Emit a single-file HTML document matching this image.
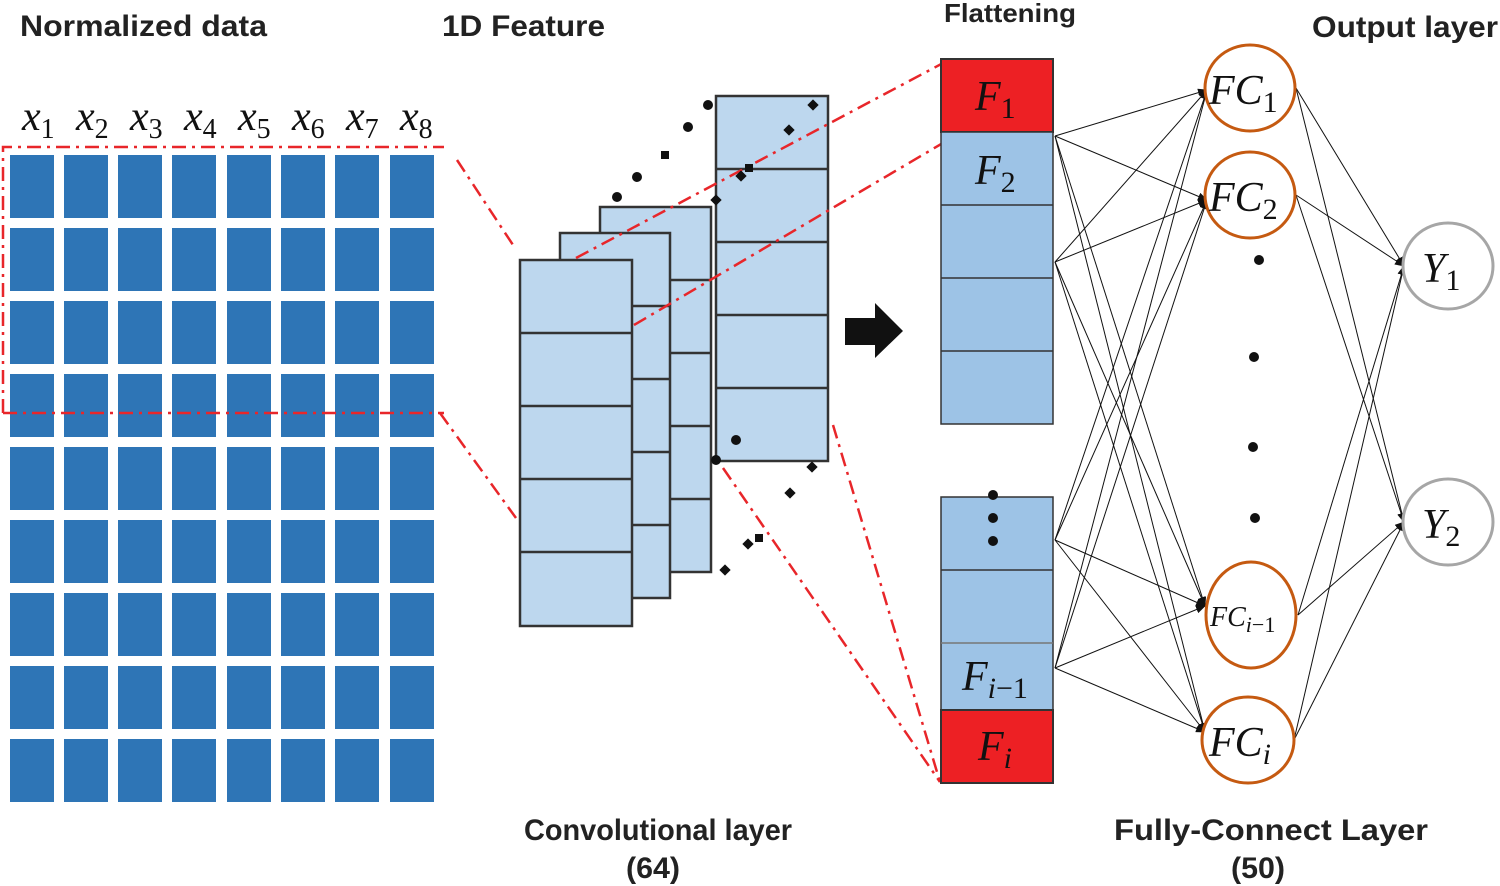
<!DOCTYPE html>
<html><head><meta charset="utf-8"><style>
html,body{margin:0;padding:0;background:#fff;}
svg{display:block;}
.t{font-family:"Liberation Sans",sans-serif;font-weight:bold;font-size:30px;fill:#222;}
.m{font-family:"Liberation Serif",serif;font-style:italic;fill:#111;}
</style></head><body>
<svg width="1500" height="886" viewBox="0 0 1500 886" xmlns="http://www.w3.org/2000/svg">
<text class="t" x="20" y="36" textLength="247" lengthAdjust="spacingAndGlyphs">Normalized data</text>
<text class="t" x="442" y="36" textLength="163" lengthAdjust="spacingAndGlyphs">1D Feature</text>
<text class="t" x="944" y="22" style="font-size:26px" textLength="132" lengthAdjust="spacingAndGlyphs">Flattening</text>
<text class="t" x="1312" y="37" textLength="186" lengthAdjust="spacingAndGlyphs">Output layer</text>
<text class="t" x="524" y="840" textLength="268" lengthAdjust="spacingAndGlyphs">Convolutional layer</text>
<text class="t" x="626" y="878" textLength="54" lengthAdjust="spacingAndGlyphs">(64)</text>
<text class="t" x="1114" y="840" textLength="314" lengthAdjust="spacingAndGlyphs">Fully-Connect Layer</text>
<text class="t" x="1231" y="878" textLength="54" lengthAdjust="spacingAndGlyphs">(50)</text>
<g class="m" font-size="42">
<text x="22" y="130">x<tspan font-size="28" font-style="normal" dy="8">1</tspan></text>
<text x="76" y="130">x<tspan font-size="28" font-style="normal" dy="8">2</tspan></text>
<text x="130" y="130">x<tspan font-size="28" font-style="normal" dy="8">3</tspan></text>
<text x="184" y="130">x<tspan font-size="28" font-style="normal" dy="8">4</tspan></text>
<text x="238" y="130">x<tspan font-size="28" font-style="normal" dy="8">5</tspan></text>
<text x="292" y="130">x<tspan font-size="28" font-style="normal" dy="8">6</tspan></text>
<text x="346" y="130">x<tspan font-size="28" font-style="normal" dy="8">7</tspan></text>
<text x="400" y="130">x<tspan font-size="28" font-style="normal" dy="8">8</tspan></text>
</g>
<g fill="#2e75b6">
<rect x="10" y="155" width="44" height="63"/><rect x="64" y="155" width="44" height="63"/><rect x="118" y="155" width="44" height="63"/><rect x="172" y="155" width="44" height="63"/><rect x="227" y="155" width="44" height="63"/><rect x="281" y="155" width="44" height="63"/><rect x="335" y="155" width="44" height="63"/><rect x="390" y="155" width="44" height="63"/>
<rect x="10" y="228" width="44" height="63"/><rect x="64" y="228" width="44" height="63"/><rect x="118" y="228" width="44" height="63"/><rect x="172" y="228" width="44" height="63"/><rect x="227" y="228" width="44" height="63"/><rect x="281" y="228" width="44" height="63"/><rect x="335" y="228" width="44" height="63"/><rect x="390" y="228" width="44" height="63"/>
<rect x="10" y="301" width="44" height="63"/><rect x="64" y="301" width="44" height="63"/><rect x="118" y="301" width="44" height="63"/><rect x="172" y="301" width="44" height="63"/><rect x="227" y="301" width="44" height="63"/><rect x="281" y="301" width="44" height="63"/><rect x="335" y="301" width="44" height="63"/><rect x="390" y="301" width="44" height="63"/>
<rect x="10" y="374" width="44" height="63"/><rect x="64" y="374" width="44" height="63"/><rect x="118" y="374" width="44" height="63"/><rect x="172" y="374" width="44" height="63"/><rect x="227" y="374" width="44" height="63"/><rect x="281" y="374" width="44" height="63"/><rect x="335" y="374" width="44" height="63"/><rect x="390" y="374" width="44" height="63"/>
<rect x="10" y="447" width="44" height="63"/><rect x="64" y="447" width="44" height="63"/><rect x="118" y="447" width="44" height="63"/><rect x="172" y="447" width="44" height="63"/><rect x="227" y="447" width="44" height="63"/><rect x="281" y="447" width="44" height="63"/><rect x="335" y="447" width="44" height="63"/><rect x="390" y="447" width="44" height="63"/>
<rect x="10" y="520" width="44" height="63"/><rect x="64" y="520" width="44" height="63"/><rect x="118" y="520" width="44" height="63"/><rect x="172" y="520" width="44" height="63"/><rect x="227" y="520" width="44" height="63"/><rect x="281" y="520" width="44" height="63"/><rect x="335" y="520" width="44" height="63"/><rect x="390" y="520" width="44" height="63"/>
<rect x="10" y="593" width="44" height="63"/><rect x="64" y="593" width="44" height="63"/><rect x="118" y="593" width="44" height="63"/><rect x="172" y="593" width="44" height="63"/><rect x="227" y="593" width="44" height="63"/><rect x="281" y="593" width="44" height="63"/><rect x="335" y="593" width="44" height="63"/><rect x="390" y="593" width="44" height="63"/>
<rect x="10" y="666" width="44" height="63"/><rect x="64" y="666" width="44" height="63"/><rect x="118" y="666" width="44" height="63"/><rect x="172" y="666" width="44" height="63"/><rect x="227" y="666" width="44" height="63"/><rect x="281" y="666" width="44" height="63"/><rect x="335" y="666" width="44" height="63"/><rect x="390" y="666" width="44" height="63"/>
<rect x="10" y="739" width="44" height="63"/><rect x="64" y="739" width="44" height="63"/><rect x="118" y="739" width="44" height="63"/><rect x="172" y="739" width="44" height="63"/><rect x="227" y="739" width="44" height="63"/><rect x="281" y="739" width="44" height="63"/><rect x="335" y="739" width="44" height="63"/><rect x="390" y="739" width="44" height="63"/>
</g>
<g stroke="#333" stroke-width="2.5" fill="#bdd7ee">
<rect x="716" y="96" width="112" height="365"/>
<line x1="716" y1="169" x2="828" y2="169"/><line x1="716" y1="242" x2="828" y2="242"/><line x1="716" y1="315" x2="828" y2="315"/><line x1="716" y1="388" x2="828" y2="388"/>
<rect x="600" y="207" width="111" height="365"/>
<line x1="671" y1="280" x2="711" y2="280"/><line x1="671" y1="353" x2="711" y2="353"/><line x1="671" y1="426" x2="711" y2="426"/><line x1="671" y1="499" x2="711" y2="499"/>
<rect x="560" y="233" width="110" height="365"/>
<line x1="632" y1="306" x2="670" y2="306"/><line x1="632" y1="379" x2="670" y2="379"/><line x1="632" y1="452" x2="670" y2="452"/><line x1="632" y1="525" x2="670" y2="525"/>
<rect x="520" y="260" width="112" height="366"/>
<line x1="520" y1="333" x2="632" y2="333"/><line x1="520" y1="406" x2="632" y2="406"/><line x1="520" y1="479" x2="632" y2="479"/><line x1="520" y1="552" x2="632" y2="552"/>
</g>
<g stroke="#e8262a" stroke-width="2.5" fill="none" stroke-dasharray="14 6 3 6">
<path d="M3 413 L3 147 L444 147"/>
<line x1="3" y1="413" x2="444" y2="413"/>
<line x1="457" y1="160" x2="515" y2="248"/>
<line x1="440" y1="413" x2="516" y2="518"/>
<line x1="576" y1="258" x2="945" y2="62"/>
<line x1="634" y1="325" x2="948" y2="140"/>
<line x1="723" y1="468" x2="940" y2="782"/>
<line x1="833" y1="425" x2="940" y2="782"/>
</g>
<g fill="#111">
<circle cx="617" cy="197" r="5"/><circle cx="637" cy="177" r="5"/><rect x="661" y="151" width="8" height="8"/><circle cx="688" cy="127" r="5"/><circle cx="708" cy="105" r="5"/>
<circle cx="736" cy="440" r="5"/><circle cx="716" cy="460" r="5"/>
<rect x="755" y="534" width="8" height="8"/><rect x="745" y="164" width="8" height="8"/>
<g transform="translate(813,105) rotate(45)"><rect x="-4" y="-4" width="8" height="8"/></g>
<g transform="translate(789,130) rotate(45)"><rect x="-4" y="-4" width="8" height="8"/></g>
<g transform="translate(741,176) rotate(45)"><rect x="-4" y="-4" width="8" height="8"/></g>
<g transform="translate(716,200) rotate(45)"><rect x="-4" y="-4" width="8" height="8"/></g>
<g transform="translate(812,467) rotate(45)"><rect x="-4" y="-4" width="8" height="8"/></g>
<g transform="translate(790,493) rotate(45)"><rect x="-4" y="-4" width="8" height="8"/></g>
<g transform="translate(748,544) rotate(45)"><rect x="-4" y="-4" width="8" height="8"/></g>
<g transform="translate(725,570) rotate(45)"><rect x="-4" y="-4" width="8" height="8"/></g>
</g>
<polygon points="845,318 875,318 875,303 903,331 875,358 875,345 845,345" fill="#111"/>
<g stroke="#333" stroke-width="1.5">
<rect x="941" y="59" width="112" height="73" fill="#ed2024" stroke-width="2"/>
<rect x="941" y="132" width="112" height="292" fill="#9dc3e6"/>
<line x1="941" y1="205" x2="1053" y2="205"/><line x1="941" y1="278" x2="1053" y2="278"/><line x1="941" y1="351" x2="1053" y2="351"/>
<rect x="941" y="497" width="112" height="213" fill="#9dc3e6"/>
<line x1="941" y1="570" x2="1053" y2="570"/><line x1="941" y1="643" x2="1053" y2="643" stroke="#777"/>
<rect x="941" y="710" width="112" height="73" fill="#ed2024" stroke-width="2"/>
</g>
<g fill="#111"><circle cx="993" cy="495" r="5"/><circle cx="993" cy="518" r="5"/><circle cx="993" cy="541" r="5"/></g>
<g class="m" font-size="42">
<text x="975" y="110">F<tspan font-size="30" font-style="normal" dy="8">1</tspan></text>
<text x="975" y="184">F<tspan font-size="30" font-style="normal" dy="8">2</tspan></text>
<text x="962" y="690">F<tspan font-size="30" dy="8">i</tspan><tspan font-size="30" font-style="normal">−1</tspan></text>
<text x="978" y="760">F<tspan font-size="30" dy="8">i</tspan></text>
</g>
<defs><marker id="a" markerWidth="10" markerHeight="8" refX="9" refY="4" orient="auto" markerUnits="userSpaceOnUse"><path d="M0 0 L10 4 L0 8 z" fill="#111"/></marker></defs>
<g stroke="#111" stroke-width="1" fill="none" marker-end="url(#a)">
<line x1="1055" y1="136" x2="1207" y2="90"/><line x1="1055" y1="136" x2="1207" y2="200"/><line x1="1055" y1="136" x2="1205" y2="606"/><line x1="1055" y1="136" x2="1205" y2="732"/>
<line x1="1055" y1="262" x2="1207" y2="90"/><line x1="1055" y1="262" x2="1207" y2="200"/><line x1="1055" y1="262" x2="1205" y2="606"/><line x1="1055" y1="262" x2="1205" y2="732"/>
<line x1="1055" y1="540" x2="1207" y2="90"/><line x1="1055" y1="540" x2="1207" y2="200"/><line x1="1055" y1="540" x2="1205" y2="606"/><line x1="1055" y1="540" x2="1205" y2="732"/>
<line x1="1055" y1="668" x2="1207" y2="90"/><line x1="1055" y1="668" x2="1207" y2="200"/><line x1="1055" y1="668" x2="1205" y2="606"/><line x1="1055" y1="668" x2="1205" y2="732"/>
<line x1="1296" y1="88" x2="1404" y2="266"/><line x1="1296" y1="88" x2="1404" y2="522"/>
<line x1="1296" y1="195" x2="1404" y2="266"/><line x1="1296" y1="195" x2="1404" y2="522"/>
<line x1="1298" y1="615" x2="1404" y2="266"/><line x1="1298" y1="615" x2="1404" y2="522"/>
<line x1="1294" y1="740" x2="1404" y2="266"/><line x1="1294" y1="740" x2="1404" y2="522"/>
</g>
<g fill="#fff" stroke="#c55a11" stroke-width="3">
<ellipse cx="1250" cy="88" rx="45" ry="43"/><ellipse cx="1250" cy="195" rx="45" ry="43"/>
<ellipse cx="1251" cy="615" rx="45" ry="53"/><ellipse cx="1248" cy="740" rx="46" ry="43"/>
</g>
<g fill="#fff" stroke="#a6a6a6" stroke-width="3">
<ellipse cx="1448" cy="266" rx="45" ry="43"/><ellipse cx="1448" cy="522" rx="45" ry="43"/>
</g>
<g fill="#111"><circle cx="1259" cy="260" r="5"/><circle cx="1254" cy="357" r="5"/><circle cx="1253" cy="447" r="5"/><circle cx="1255" cy="518" r="5"/></g>
<g class="m" font-size="42">
<text x="1209" y="104">FC<tspan font-size="30" font-style="normal" dy="8">1</tspan></text>
<text x="1209" y="211">FC<tspan font-size="30" font-style="normal" dy="8">2</tspan></text>
<text x="1210" y="626" font-size="28">FC<tspan font-size="22" dy="6">i</tspan><tspan font-size="22" font-style="normal">−1</tspan></text>
<text x="1209" y="756">FC<tspan font-size="30" dy="8">i</tspan></text>
<text x="1422" y="282">Y<tspan font-size="30" font-style="normal" dy="8">1</tspan></text>
<text x="1422" y="538">Y<tspan font-size="30" font-style="normal" dy="8">2</tspan></text>
</g>
</svg>
</body></html>
